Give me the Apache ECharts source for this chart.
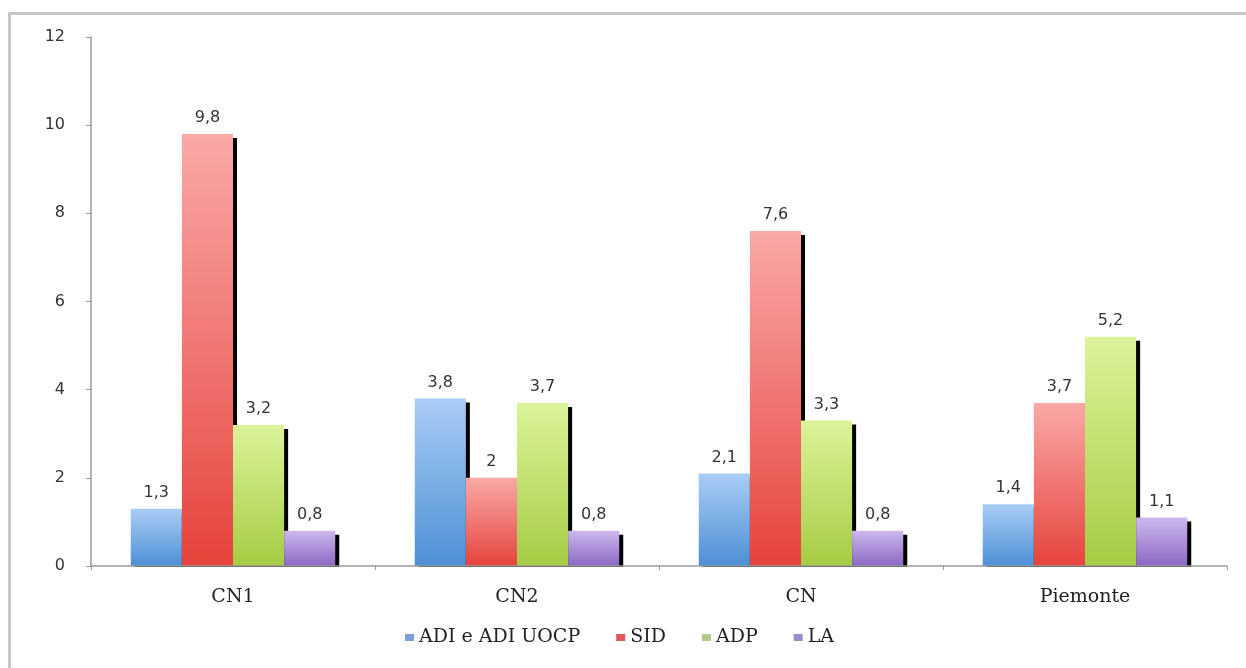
<!DOCTYPE html>
<html>
<head>
<meta charset="utf-8">
<script src="https://cdn.jsdelivr.net/npm/echarts@6/dist/echarts.min.js"></script>
<style>
  html, body { margin: 0; padding: 0; background: #fff; }
  #chart { width: 1246px; height: 668px; }
</style>
</head>
<body>
<div id="chart"></div>
<script>
// Areas and series
const categories = ['CN1', 'CN2', 'CN', 'Piemonte'];
const seriesNames = ['ADI e ADI UOCP', 'SID', 'ADP', 'LA'];
const adiValues = [1.3, 3.8, 2.1, 1.4];
const sidValues = [9.8, 2, 7.6, 3.7];
const adpValues = [3.2, 3.7, 3.3, 5.2];
const laValues = [0.8, 0.8, 0.8, 1.1];
const yTicks = [0, 2, 4, 6, 8, 10, 12];

// Gradient fills (top colour, bottom colour) and legend swatch colours
const fills = [
  ['#a9cdf5', '#4d8fd6'],
  ['#f9a9a7', '#e6433c'],
  ['#dcf39a', '#a5cc43'],
  ['#cdb8ee', '#8a69c2']
];
const swatches = ['#7e9fd9', '#e0575a', '#b4c98a', '#9a8cc8'];
const values = [adiValues, sidValues, adpValues, laValues];

const chart = echarts.init(document.getElementById('chart'));

const series = seriesNames.map((name, i) => ({
  name: name,
  type: 'bar',
  z: 2,
  data: values[i],
  barGap: '0%',
  barCategoryGap: '28%',
  itemStyle: {
    color: new echarts.graphic.LinearGradient(0, 0, 0, 1, [
      { offset: 0, color: fills[i][0] },
      { offset: 1, color: fills[i][1] }
    ]),
    shadowColor: '#000',
    shadowBlur: 0,
    shadowOffsetX: 4,
    shadowOffsetY: 4
  },
  label: {
    show: true,
    position: 'top',
    distance: 8,
    color: '#333',
    fontFamily: 'DejaVu Sans',
    fontSize: 16,
    formatter: p => String(p.value).replace('.', ',')
  }
}));

chart.setOption({
  animation: false,
  backgroundColor: '#fff',
  graphic: [
    { type: 'line', shape: { x1: 8, y1: 13.5, x2: 1246, y2: 13.5 }, style: { stroke: '#c6c6c6', lineWidth: 3 } },
    { type: 'line', shape: { x1: 9.5, y1: 12, x2: 9.5, y2: 668 }, style: { stroke: '#c6c6c6', lineWidth: 3 } },
    // keeps the bar shadows from spilling under the baseline
    { type: 'rect', z: 5, shape: { x: 92, y: 567, width: 1140, height: 5 }, style: { fill: '#fff' } }
  ],
  grid: { left: 91, right: 19, top: 37, bottom: 102 },
  legend: {
    data: seriesNames.map((n, i) => ({ name: n, itemStyle: { color: swatches[i], shadowColor: 'transparent', shadowOffsetX: 0, shadowOffsetY: 0 } })),
    left: 400,
    top: 623,
    icon: 'rect',
    itemWidth: 9,
    itemHeight: 7,
    itemGap: 36,
    textStyle: { fontFamily: 'DejaVu Serif', fontSize: 19, color: '#222' }
  },
  xAxis: {
    type: 'category',
    z: 10,
    data: categories,
    axisLine: { lineStyle: { color: '#9a9a9a', width: 1.5 } },
    axisTick: { show: true, length: 4, lineStyle: { color: '#9a9a9a' } },
    axisLabel: { margin: 22, fontFamily: 'DejaVu Serif', fontSize: 19, color: '#222' }
  },
  yAxis: {
    type: 'value',
    z: 10,
    min: yTicks[0],
    max: yTicks[yTicks.length - 1],
    interval: 2,
    splitLine: { show: false },
    axisLine: { show: true, lineStyle: { color: '#9a9a9a', width: 1.5 } },
    axisTick: { show: true, length: 5, lineStyle: { color: '#9a9a9a' } },
    axisLabel: { margin: 26, fontFamily: 'DejaVu Sans', fontSize: 16, color: '#333' }
  },
  series: series
});
</script>
</body>
</html>
